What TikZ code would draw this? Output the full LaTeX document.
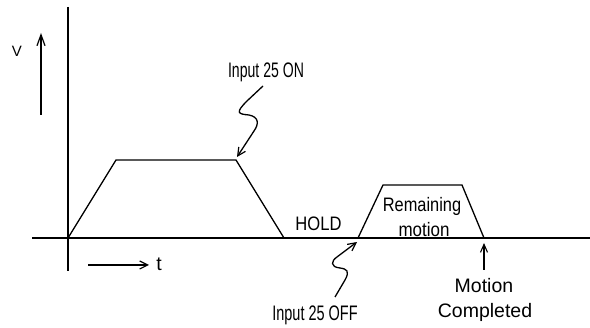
\documentclass[tikz,border=0pt]{standalone}
\usepackage{fontspec}
\usepackage{graphicx}
\setmainfont{Liberation Sans}
\usetikzlibrary{arrows.meta}
\newcommand{\narrowtxt}[2]{\scalebox{#1}[1]{#2}}
\tikzset{
  ln/.style={line width=1.3pt, line join=miter},
  lbl/.style={anchor=base, inner sep=0pt, font=\fontsize{19.5}{22}\selectfont},
  biglbl/.style={lbl, font=\fontsize{21}{24}\selectfont},
  barb/.style={ln, -{Straight Barb[length=8pt,width=8pt,line width=1.2pt]}},
}
\begin{document}
\begin{tikzpicture}[x=1pt,y=-1pt]
\useasboundingbox (0,0) rectangle (590,328);
% axes
\coordinate (vtop) at (68,7);
\coordinate (vbot) at (68,271);
\coordinate (hl) at (32,238);
\coordinate (hr) at (590,238);
\draw[ln] (vtop) -- (vbot);
\draw[ln] (hl) -- (hr);
% V arrow
\coordinate (va) at (41,115);
\coordinate (vb) at (41,33);
\draw[ln, -{Straight Barb[length=11pt,width=8pt,line width=1.2pt]}] (va) -- (vb);
\node[lbl, font=\fontsize{15}{18}\selectfont] (V) at (17,57) {V};
% t arrow
\coordinate (ta) at (88,265);
\coordinate (tb) at (149,265);
\draw[barb] (ta) -- (tb);
\node[lbl] (t) at (159,271) {t};
% first trapezoid
\coordinate (p0) at (68,238);
\coordinate (p1) at (116,160);
\coordinate (p2) at (236,160);
\coordinate (p3) at (284,238);
\draw[ln] (p0) -- (p1) -- (p2) -- (p3);
% second trapezoid
\coordinate (q0) at (358,238);
\coordinate (q1) at (383,185);
\coordinate (q2) at (462,185);
\coordinate (q3) at (484,238);
\draw[ln] (q0) -- (q1) -- (q2) -- (q3);
% labels
\node[biglbl] (on) at (266,77.5) {\narrowtxt{0.67}{Input 25 ON}};
\node[lbl] (hold) at (318.5,231) {\narrowtxt{0.85}{HOLD}};
\node[lbl] (rem) at (422,212) {\narrowtxt{0.84}{Remaining}};
\node[lbl] (mot) at (424,237) {\narrowtxt{0.87}{motion}};
\node[biglbl] (off) at (315,320.5) {\narrowtxt{0.69}{Input 25 OFF}};
\node[lbl] (mc1) at (484,293) {Motion};
\node[lbl] (mc2) at (485,318) {Completed};
% squiggle arrows
\coordinate (s1) at (263,86);
\coordinate (e1) at (237,157);
\draw[barb] (s1) -- (247,101) .. controls (235,113) and (238,114) .. (249,115)
  .. controls (259,117) and (259,124) .. (254,131) -- (e1);
\coordinate (s2) at (335,297);
\coordinate (e2) at (357,242);
\draw[barb] (s2) -- (345,280) .. controls (350,271) and (347,269) .. (340,268)
  .. controls (330,267) and (331,261) .. (337,257) -- (e2);
\coordinate (m0) at (484,270);
\coordinate (m1) at (484,243);
\draw[ln, -{Straight Barb[length=8pt,width=7pt,line width=1.1pt]}] (m0) -- (m1);
\end{tikzpicture}
\end{document}
